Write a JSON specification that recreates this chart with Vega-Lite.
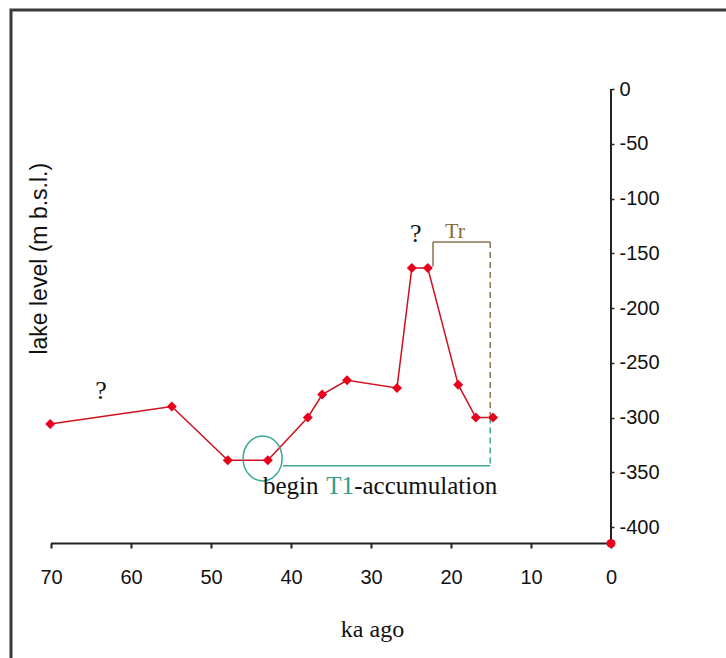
{
  "$schema": "https://vega.github.io/schema/vega-lite/v6.json",
  "width": 720,
  "height": 650,
  "autosize": "none",
  "padding": {"left": 11, "top": 10, "right": 0, "bottom": 0},
  "background": "white",
  "config": {"view": {"stroke": "#3a3a3a", "strokeWidth": 3}},
  "datasets": {
    "levels": [
      {"ka": 70.1, "level": -306},
      {"ka": 54.9, "level": -290},
      {"ka": 47.9, "level": -339},
      {"ka": 42.9, "level": -339},
      {"ka": 37.9, "level": -300},
      {"ka": 36.1, "level": -279},
      {"ka": 33.0, "level": -266},
      {"ka": 26.75, "level": -273},
      {"ka": 24.9, "level": -163.5},
      {"ka": 22.9, "level": -163.5},
      {"ka": 19.1, "level": -270},
      {"ka": 16.9, "level": -300},
      {"ka": 14.75, "level": -300}
    ],
    "modern": [{"ka": 0, "level": -415}],
    "axislines": [
      {"ka": 70, "ka2": 0, "level": -415, "level2": -415},
      {"ka": 0, "ka2": 0, "level": 0, "level2": -415}
    ],
    "tealSolid": [{"ka": 41, "ka2": 15.1, "level": -344, "level2": -344}],
    "tealDashed": [{"ka": 15.1, "ka2": 15.1, "level": -300, "level2": -344}],
    "brownSolid": [
      {"ka": 22.25, "ka2": 15.1, "level": -139.7, "level2": -139.7},
      {"ka": 22.25, "ka2": 22.25, "level": -139.7, "level2": -162}
    ],
    "brownDashed": [{"ka": 15.1, "ka2": 15.1, "level": -139.7, "level2": -300}],
    "ellipse": [{"ka": 43.55, "level": -337.4}],
    "questions": [
      {"label": "?", "ka": 63.75, "level": -276},
      {"label": "?", "ka": 24.4, "level": -132}
    ],
    "tr": [{"label": "Tr", "ka": 19.5, "level": -130}],
    "beginText": [
      {"label": "begin", "ka": 43.5, "level": -370},
      {"label": "-accumulation", "ka": 32.1, "level": -370}
    ],
    "t1": [{"label": "T1", "ka": 35.6, "level": -370}],
    "ytitle": [{"label": "lake level (m b.s.l.)", "ka": 71.4, "level": -155}]
  },
  "encoding": {
    "x": {
      "field": "ka",
      "type": "quantitative",
      "scale": {"domain": [-15, 75], "reverse": true, "nice": false, "zero": false},
      "axis": {
        "orient": "bottom",
        "offset": -117,
        "values": [70, 60, 50, 40, 30, 20, 10, 0],
        "domain": false,
        "grid": false,
        "ticks": true,
        "tickSize": 5,
        "tickWidth": 2,
        "tickColor": "#222222",
        "labelFont": "Liberation Sans",
        "labelFontSize": 20,
        "labelColor": "#111111",
        "labelPadding": 19,
        "labelFlush": false,
        "labelOverlap": false,
        "title": "ka ago",
        "titleFont": "Liberation Serif",
        "titleFontSize": 24,
        "titleFontWeight": "normal",
        "titleColor": "#111111",
        "titlePadding": 30,
        "titleX": 361
      }
    },
    "y": {
      "field": "level",
      "type": "quantitative",
      "scale": {"domain": [-521.46, 72.15], "nice": false, "zero": false},
      "axis": {
        "orient": "right",
        "offset": -120,
        "values": [0, -50, -100, -150, -200, -250, -300, -350, -400],
        "domain": false,
        "grid": false,
        "tickSize": 3,
        "tickWidth": 1.5,
        "tickColor": "#222222",
        "labelFont": "Liberation Sans",
        "labelFontSize": 20,
        "labelColor": "#111111",
        "labelPadding": 5,
        "labelExpr": "'' + datum.value",
        "labelFlush": false,
        "labelOverlap": false,
        "title": null
      }
    }
  },
  "layer": [
    {
      "data": {"name": "axislines"},
      "mark": {"type": "rule", "color": "#222222", "strokeWidth": 2},
      "encoding": {"x2": {"field": "ka2"}, "y2": {"field": "level2"}}
    },
    {
      "data": {"name": "tealSolid"},
      "mark": {"type": "rule", "color": "#3aa895", "strokeWidth": 1.5},
      "encoding": {"x2": {"field": "ka2"}, "y2": {"field": "level2"}}
    },
    {
      "data": {"name": "tealDashed"},
      "mark": {"type": "rule", "color": "#3aa895", "strokeWidth": 1.5, "strokeDash": [6, 4]},
      "encoding": {"x2": {"field": "ka2"}, "y2": {"field": "level2"}}
    },
    {
      "data": {"name": "brownSolid"},
      "mark": {"type": "rule", "color": "#8a7350", "strokeWidth": 1.5},
      "encoding": {"x2": {"field": "ka2"}, "y2": {"field": "level2"}}
    },
    {
      "data": {"name": "brownDashed"},
      "mark": {"type": "rule", "color": "#8a7350", "strokeWidth": 1.5, "strokeDash": [6, 4]},
      "encoding": {"x2": {"field": "ka2"}, "y2": {"field": "level2"}}
    },
    {
      "data": {"name": "levels"},
      "mark": {"type": "line", "color": "#d0101e", "strokeWidth": 1.5},
      "encoding": {}
    },
    {
      "data": {"name": "levels"},
      "mark": {"type": "point", "shape": "diamond", "filled": true, "color": "#e8001c", "size": 100, "opacity": 1},
      "encoding": {}
    },
    {
      "data": {"name": "modern"},
      "mark": {"type": "point", "shape": "circle", "filled": true, "color": "#e8001c", "size": 80, "opacity": 1},
      "encoding": {}
    },
    {
      "data": {"name": "ellipse"},
      "mark": {
        "type": "point",
        "shape": "M 0.867 0 C 0.867 0.5523 0.4788 1 0 1 C -0.4788 1 -0.867 0.5523 -0.867 0 C -0.867 -0.5523 -0.4788 -1 0 -1 C 0.4788 -1 0.867 -0.5523 0.867 0 Z",
        "size": 2025,
        "filled": false,
        "stroke": "#3aa895",
        "strokeWidth": 1.5,
        "opacity": 1
      },
      "encoding": {}
    },
    {
      "data": {"name": "questions"},
      "mark": {"type": "text", "font": "Liberation Serif", "fontSize": 26, "color": "#111111", "align": "center", "baseline": "middle"},
      "encoding": {"text": {"field": "label"}}
    },
    {
      "data": {"name": "tr"},
      "mark": {"type": "text", "font": "Liberation Serif", "fontSize": 22, "color": "#8b6a3a", "align": "center", "baseline": "middle"},
      "encoding": {"text": {"field": "label"}}
    },
    {
      "data": {"name": "beginText"},
      "mark": {"type": "text", "font": "Liberation Serif", "fontSize": 25, "color": "#111111", "align": "left", "baseline": "alphabetic"},
      "encoding": {"text": {"field": "label"}}
    },
    {
      "data": {"name": "t1"},
      "mark": {"type": "text", "font": "Liberation Serif", "fontSize": 25, "color": "#2f9e88", "align": "left", "baseline": "alphabetic"},
      "encoding": {"text": {"field": "label"}}
    },
    {
      "data": {"name": "ytitle"},
      "mark": {"type": "text", "font": "Liberation Sans", "fontSize": 23, "color": "#111111", "align": "center", "baseline": "middle", "angle": 270},
      "encoding": {"text": {"field": "label"}}
    }
  ]
}
